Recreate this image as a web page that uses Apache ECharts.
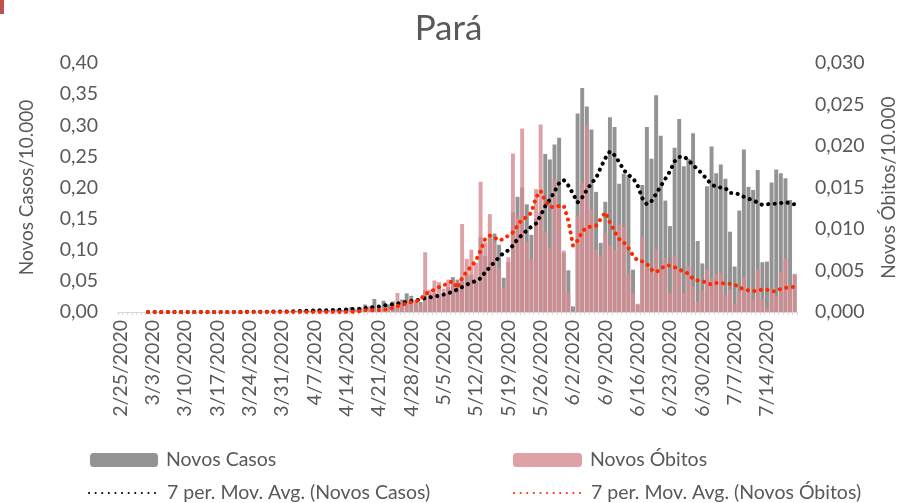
<!DOCTYPE html>
<html lang="pt">
<head>
<meta charset="UTF-8">
<title>Pará</title>
<script src="https://cdn.jsdelivr.net/npm/echarts@6/dist/echarts.min.js"></script>
<style>
  html, body { margin: 0; padding: 0; background: #fff; }
  #chart { width: 897px; height: 503px; }
</style>
</head>
<body>
<div id="chart"></div>
<script>
// dias de 2/25/2020 até 7/20/2020
const firstDay = new Date(2020, 1, 25);
const dayCount = 147;
const dates = [];
for (let i = 0; i < dayCount; i++) {
  const d = new Date(firstDay.getFullYear(), firstDay.getMonth(), firstDay.getDate() + i);
  dates.push((d.getMonth() + 1) + '/' + d.getDate() + '/' + d.getFullYear());
}

// novos casos por 10.000 hab. (eixo esquerdo)
const novosCasos = [
  0, 0, 0, 0, 0, 0, 0, 0, 0, 0,
  0, 0, 0, 0, 0, 0, 0, 0, 0, 0,
  0, 0, 0.0001, 0, 0.0002, 0.0001, 0.0002, 0.0005, 0.0003, 0.0002,
  0.0006, 0.0005, 0.0008, 0.0007, 0.0009, 0.001, 0.0016, 0.0012, 0.002, 0.003,
  0.0025, 0.002, 0.0035, 0.004, 0.002, 0.003, 0.005, 0.004, 0.003, 0.006,
  0.008, 0.004, 0.007, 0.012, 0.006, 0.021, 0.009, 0.018, 0.012, 0.017,
  0.01, 0.02, 0.03, 0.026, 0.016, 0.016, 0.035, 0.028, 0.03, 0.025,
  0.028, 0.04, 0.056, 0.052, 0.05, 0.06, 0.06, 0.05, 0.12, 0.09,
  0.12, 0.126, 0.108, 0.055, 0.08, 0.16, 0.185, 0.2, 0.173, 0.124,
  0.15, 0.16, 0.254, 0.245, 0.269, 0.28, 0.095, 0.067, 0.009, 0.319,
  0.36, 0.33, 0.293, 0.193, 0.111, 0.177, 0.313, 0.297, 0.206, 0.222,
  0.22, 0.068, 0.012, 0.204, 0.297, 0.246, 0.348, 0.283, 0.179, 0.138,
  0.264, 0.31, 0.234, 0.246, 0.287, 0.114, 0.078, 0.202, 0.266, 0.223,
  0.237, 0.214, 0.129, 0.073, 0.163, 0.261, 0.201, 0.196, 0.228, 0.08,
  0.081, 0.208, 0.229, 0.223, 0.215, 0.18, 0.06
];

// novos óbitos por 10.000 hab. (eixo direito)
const novosObitos = [
  0, 0, 0, 0, 0, 0, 0, 0, 0, 0,
  0, 0, 0, 0, 0, 0, 0, 0, 0, 0,
  0, 0, 0, 0, 0, 0, 0, 0, 0, 0,
  0, 0, 0, 0, 0, 0, 0.0001, 0, 0.0001, 0,
  0.0001, 0.0001, 0.0002, 0.0001, 0.0002, 0.0001, 0.0002, 0.0003, 0.0002, 0.0001,
  0.0003, 0.0002, 0.0003, 0.0004, 0.0007, 0.0004, 0.0002, 0.0006, 0.0005, 0.0009,
  0.0023, 0.0013, 0.0012, 0.0014, 0.0014, 0.0008, 0.0072, 0.0027, 0.0038, 0.0036,
  0.0028, 0.0039, 0.0037, 0.0027, 0.0106, 0.0064, 0.0075, 0.0059, 0.0157, 0.0084,
  0.0118, 0.0084, 0.0053, 0.0029, 0.0066, 0.0191, 0.0115, 0.0221, 0.0085, 0.0064,
  0.0148, 0.0226, 0.0097, 0.0077, 0.016, 0.0125, 0.0074, 0.0023, 0.0001, 0.0116,
  0.0155, 0.0225, 0.0123, 0.0075, 0.0067, 0.0095, 0.0081, 0.0075, 0.0105, 0.0103,
  0.0046, 0.0023, 0.001, 0.0091, 0.0059, 0.0047, 0.0076, 0.0051, 0.0065, 0.0023,
  0.0068, 0.0053, 0.0023, 0.0055, 0.0031, 0.0012, 0.0026, 0.0051, 0.004, 0.0045,
  0.0047, 0.002, 0.0027, 0.0009, 0.0024, 0.0042, 0.0023, 0.0015, 0.0051, 0.0016,
  0.0004, 0.0027, 0.0019, 0.0049, 0.0064, 0.0031, 0.0046
];

const mediaCasos = [
  null, null, null, null, null, null, 0, 0, 0, 0,
  0, 0, 0, 0, 0, 0, 0, 0, 0, 0,
  0, 0, 0, 0, 0.0001, 0.0001, 0.0002, 0.0002, 0.0003, 0.0003,
  0.0004, 0.0005, 0.0006, 0.0006, 0.0007, 0.0008, 0.0009, 0.001, 0.0012, 0.0015,
  0.0018, 0.002, 0.0023, 0.0026, 0.0028, 0.003, 0.0032, 0.0034, 0.0036, 0.004,
  0.0045, 0.005, 0.0055, 0.0062, 0.0068, 0.0085, 0.009, 0.0105, 0.0112, 0.0122,
  0.0135, 0.015, 0.0165, 0.0176, 0.019, 0.02, 0.0225, 0.0235, 0.025, 0.026,
  0.028, 0.03, 0.033, 0.036, 0.04, 0.044, 0.047, 0.05, 0.054, 0.064,
  0.072, 0.08, 0.088, 0.095, 0.099, 0.107, 0.117, 0.124, 0.131, 0.137,
  0.142, 0.155, 0.17, 0.181, 0.193, 0.207, 0.212, 0.203, 0.19, 0.176,
  0.184, 0.196, 0.207, 0.215, 0.232, 0.247, 0.258, 0.252, 0.241, 0.228,
  0.22, 0.215, 0.203, 0.183, 0.173, 0.178, 0.19, 0.202, 0.214, 0.226,
  0.242, 0.249, 0.25, 0.244, 0.236, 0.229, 0.222, 0.213, 0.205, 0.201,
  0.2, 0.199, 0.191, 0.191, 0.189, 0.185, 0.182, 0.179, 0.176, 0.172,
  0.173, 0.174, 0.174, 0.175, 0.177, 0.174, 0.173
];

const mediaObitos = [
  null, null, null, null, null, null, 0, 0, 0, 0,
  0, 0, 0, 0, 0, 0, 0, 0, 0, 0,
  0, 0, 0, 0, 0, 0, 0, 0, 0, 0,
  0, 0, 0, 0, 0, 0, 0, 0, 0, 0,
  0, 0, 0, 0, 0, 0, 0, 0, 0, 0,
  0, 0.0001, 0.0001, 0.0002, 0.0002, 0.0002, 0.0002, 0.0003, 0.0003, 0.0005,
  0.0007, 0.0009, 0.001, 0.0012, 0.0013, 0.0015, 0.0022, 0.0024, 0.0027, 0.003,
  0.0032, 0.0035, 0.0037, 0.0029, 0.0041, 0.0049, 0.0055, 0.0062, 0.0074, 0.0088,
  0.0092, 0.009, 0.0086, 0.0088, 0.0092, 0.0096, 0.0104, 0.0112, 0.0114, 0.012,
  0.0138, 0.0146, 0.0134, 0.0127, 0.0126, 0.0128, 0.0128, 0.011, 0.008, 0.0086,
  0.0097, 0.0102, 0.0103, 0.0104, 0.0112, 0.012, 0.0108, 0.0097, 0.0088, 0.0084,
  0.0077, 0.0068, 0.0062, 0.0061, 0.0058, 0.0051, 0.0048, 0.0052, 0.0056, 0.0056,
  0.0054, 0.0051, 0.0049, 0.0046, 0.004, 0.0038, 0.0037, 0.0035, 0.0033, 0.0035,
  0.0035, 0.0034, 0.0034, 0.0033, 0.0029, 0.0028, 0.0026, 0.0025, 0.0026, 0.0027,
  0.0027, 0.0025, 0.0025, 0.0028, 0.0029, 0.003, 0.003
];

const textColor = '#595959';
const fontName = 'Lato';

const legendText = { fontSize: 19.5, color: textColor, padding: [0, 0, 0, 3] };

const chart = echarts.init(document.getElementById('chart'));
chart.setOption({
  animation: false,
  textStyle: { fontFamily: fontName, color: textColor },
  title: {
    text: 'Pará',
    left: 'center',
    top: 6,
    textStyle: { fontFamily: fontName, fontSize: 35, fontWeight: 'normal', color: textColor }
  },
  graphic: [
    { type: 'rect', shape: { x: 0, y: 0, width: 4, height: 14 }, style: { fill: '#c0504d' } }
  ],
  legend: [
    { data: ['Novos Casos'], left: 85, top: 445, itemWidth: 68, itemHeight: 14, textStyle: legendText },
    { data: ['Novos Óbitos'], left: 508, top: 445, itemWidth: 69, itemHeight: 14, textStyle: legendText },
    {
      data: ['7 per. Mov. Avg. (Novos Casos)'], left: 83, top: 478, itemWidth: 70, itemHeight: 14,
      itemStyle: { opacity: 0 }, textStyle: legendText
    },
    {
      data: ['7 per. Mov. Avg. (Novos Óbitos)'], left: 508, top: 478, itemWidth: 69, itemHeight: 14,
      itemStyle: { opacity: 0 }, textStyle: legendText
    }
  ],
  grid: { left: 118, right: 100, top: 63, bottom: 191, outerBoundsMode: 'none' },
  xAxis: {
    type: 'category',
    data: dates,
    boundaryGap: true,
    axisLine: { lineStyle: { color: '#d9d9d9', width: 1 } },
    axisTick: { show: true, interval: 0, length: 3, lineStyle: { color: '#d9d9d9' } },
    axisLabel: { interval: 6, rotate: 90, fontSize: 19.5, color: textColor, margin: 8 }
  },
  yAxis: [
    {
      type: 'value', min: 0, max: 0.4, interval: 0.05,
      name: 'Novos Casos/10.000', nameLocation: 'middle', nameRotate: 90, nameGap: 82,
      nameTextStyle: { fontSize: 19, color: textColor },
      axisLine: { show: false }, axisTick: { show: false }, splitLine: { show: false },
      axisLabel: {
        fontSize: 19.5, color: textColor, margin: 20,
        formatter: v => v.toFixed(2).replace('.', ',')
      }
    },
    {
      type: 'value', min: 0, max: 0.03, interval: 0.005,
      name: 'Novos Óbitos/10.000', nameLocation: 'middle', nameRotate: 90, nameGap: 82,
      nameTextStyle: { fontSize: 19, color: textColor },
      axisLine: { show: false }, axisTick: { show: false }, splitLine: { show: false },
      axisLabel: {
        fontSize: 19.5, color: textColor, margin: 18,
        formatter: v => v.toFixed(3).replace('.', ',')
      }
    }
  ],
  series: [
    {
      name: 'Novos Casos', type: 'bar', yAxisIndex: 0, data: novosCasos,
      barCategoryGap: '15%', barGap: '-100%',
      itemStyle: { color: '#939393' }
    },
    {
      name: 'Novos Óbitos', type: 'bar', yAxisIndex: 1, data: novosObitos,
      barCategoryGap: '15%', barGap: '-100%',
      itemStyle: { color: 'rgba(214,140,146,0.82)' }
    },
    {
      name: '7 per. Mov. Avg. (Novos Casos)', type: 'line', yAxisIndex: 0, data: mediaCasos,
      symbol: 'none', z: 5,
      lineStyle: { color: '#000000', width: 4, type: [0.1, 6.5], cap: 'round' },
      itemStyle: { color: '#000000' }
    },
    {
      name: '7 per. Mov. Avg. (Novos Óbitos)', type: 'line', yAxisIndex: 1, data: mediaObitos,
      symbol: 'none', z: 6,
      lineStyle: { color: '#ff2a00', width: 4, type: [0.1, 6.5], cap: 'round' },
      itemStyle: { color: '#ff2a00' }
    }
  ]
});
</script>
</body>
</html>
